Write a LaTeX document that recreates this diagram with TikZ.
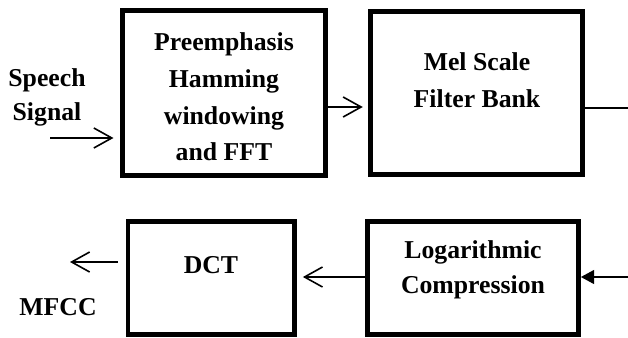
\documentclass[tikz,border=0pt]{standalone}
\usepackage{fontspec}
\setmainfont{Liberation Serif}
\usetikzlibrary{arrows.meta}

\begin{document}
\begin{tikzpicture}[
		x=0.75pt, y=-0.75pt,
		every node/.style={
			font=\bfseries\fontsize{19.3}{27.5}\selectfont,
			align=center
		},
		blk/.style={
			rectangle,
			draw=black,
			line width=3.6pt,
			inner sep=0pt
		},
		flow/.style={
			line width=1.2pt,
			-{Straight Barb[length=13.5pt,width=15pt,line width=1.2pt]}
		}]

		\useasboundingbox (0,0) rectangle (628,337);

		%boxes
		\node[blk, minimum width=152.2pt, minimum height=123.7pt] at (224,93) (fft) {};
		\node[blk, minimum width=159pt, minimum height=122.2pt] at (476.5,93) (mel) {};
		\node[blk, minimum width=124.9pt, minimum height=85.1pt] at (211.2,278) (dct) {};
		\node[blk, minimum width=158.2pt, minimum height=84.7pt] at (473,278) (logc) {};

		%labels
		\node at (224,97) {Preemphasis\\Hamming\\windowing\\and FFT};
		\node at (477,80) {Mel Scale\\Filter Bank};
		\node at (211,265) {DCT};
		\node[font=\bfseries\fontsize{19.3}{26}\selectfont] at (473,270) {Logarithmic\\Compression};
		\node[font=\bfseries\fontsize{19.3}{26}\selectfont] at (47,97.5) {Speech\\Signal};
		\node at (58,307) {MFCC};

		\coordinate (sin) at (50,138);
		\coordinate (melright) at (628,108);
		\coordinate (logright) at (628,277);
		\coordinate (mfout) at (70,262);

		\draw[flow, shorten >=5pt] (sin) -- (sin -| fft.west);
		\draw[flow, shorten >=4pt] ([yshift=-10.5pt]fft.east) -- ([yshift=-10.5pt]mel.west);
		\draw[line width=1.2pt] ([yshift=-11.25pt]mel.east) -- (melright);
		\draw[line width=1.2pt, -{Triangle[length=10pt,width=10.5pt]}] (logright) -- (logright -| logc.east);
		\draw[flow, shorten >=4.5pt] ([yshift=0.75pt]logc.west) -- ([yshift=0.75pt]dct.east);
		\draw[flow, shorten <=6pt] (mfout -| dct.west) -- (mfout);

	\end{tikzpicture}
\end{document}
